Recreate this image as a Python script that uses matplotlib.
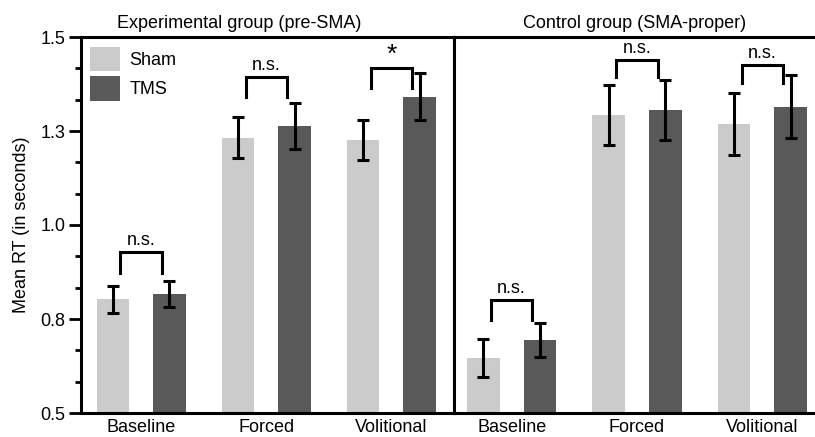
import numpy as np
import matplotlib.pyplot as plt
from matplotlib.patches import Patch

plt.rcParams['font.family'] = ['Liberation Sans', 'DejaVu Sans']

conditions = ["Baseline", "Forced", "Volitional"]
panel_titles = ["Experimental group (pre-SMA)", "Control group (SMA-proper)"]

# mean RT (s) and error bar half-widths, per panel
sham_mean = [[0.802, 1.232, 1.226], [0.647, 1.293, 1.269]]
sham_err = [[0.037, 0.054, 0.054], [0.050, 0.080, 0.083]]
tms_mean = [[0.816, 1.264, 1.341], [0.694, 1.306, 1.315]]
tms_err = [[0.035, 0.061, 0.062], [0.045, 0.080, 0.083]]

# significance brackets: top of bracket, bottom of legs, label
bracket_top = [[0.929, 1.393, 1.417], [0.800, 1.439, 1.425]]
bracket_leg = [[0.873, 1.341, 1.364], [0.747, 1.393, 1.378]]
bracket_txt = [["n.s.", "n.s.", "*"], ["n.s.", "n.s.", "n.s."]]

yticks = [0.5, 0.75, 1.0, 1.25, 1.5]
ytick_labels = ["0.5", "0.8", "1.0", "1.3", "1.5"]

sham_color = "#cbcbcb"
tms_color = "#595959"

W, H = 815, 437
fig = plt.figure(figsize=(W / 100, H / 100), dpi=100)
bot = 1 - 413 / H
hgt = 376 / H
ax1 = fig.add_axes([81 / W, bot, 373 / W, hgt])
ax2 = fig.add_axes([454 / W, bot, 361 / W, hgt])
axes = [ax1, ax2]
xlims = [(-0.48, 2.50), (-0.46, 2.42)]

x = np.arange(len(conditions))
off = 0.226
bw = 0.26
lw = 2.2

for p, ax in enumerate(axes):
    ax.bar(x - off, sham_mean[p], bw, color=sham_color, label="Sham", zorder=1)
    ax.bar(x + off, tms_mean[p], bw, color=tms_color, label="TMS", zorder=1)
    ax.errorbar(x - off, sham_mean[p], yerr=sham_err[p], fmt='none', ecolor='black',
                elinewidth=lw, capsize=4.5, capthick=lw, zorder=3)
    ax.errorbar(x + off, tms_mean[p], yerr=tms_err[p], fmt='none', ecolor='black',
                elinewidth=lw, capsize=4.5, capthick=lw, zorder=3)
    for i in range(len(conditions)):
        l, r = x[i] - 0.165, x[i] + 0.165
        ax.plot([l, l, r, r], [bracket_leg[p][i], bracket_top[p][i], bracket_top[p][i], bracket_leg[p][i]],
                color='black', lw=lw, solid_joinstyle='miter', zorder=3)
        txt = bracket_txt[p][i]
        if txt == "*":
            ax.text(x[i], bracket_top[p][i] + 0.004, txt, ha='center', va='bottom', fontsize=19)
        else:
            ax.text(x[i], bracket_top[p][i] + 0.008, txt, ha='center', va='bottom', fontsize=13)

    ax.set_xlim(*xlims[p])
    ax.set_ylim(0.5, 1.5)
    ax.set_xticks(x)
    ax.set_xticklabels(conditions, fontsize=13)
    ax.tick_params(axis='x', length=0, pad=4)
    for s in ax.spines.values():
        s.set_linewidth(lw)

ax1.set_yticks(yticks)
ax1.set_yticklabels(ytick_labels, fontsize=13)
ax1.set_yticks(np.arange(0.5, 1.5, 1 / 12), minor=True)
ax1.tick_params(axis='y', which='major', length=9, width=2, direction='out', pad=2)
ax1.tick_params(axis='y', which='minor', length=4.5, width=2, direction='out')
ax1.set_ylabel("Mean RT (in seconds)", fontsize=13, labelpad=8)

ax2.set_yticks([])
ax2.spines['right'].set_visible(False)

ax1.text(0.424, 1.014, panel_titles[0], transform=ax1.transAxes, ha='center', va='bottom', fontsize=13)
ax2.text(0.5, 1.014, panel_titles[1], transform=ax2.transAxes, ha='center', va='bottom', fontsize=13)

handles = [Patch(facecolor=sham_color, label="Sham"), Patch(facecolor=tms_color, label="TMS")]
ax1.legend(handles=handles, loc='upper left', bbox_to_anchor=(0.024, 0.974), frameon=False,
           fontsize=13, handlelength=1.67, handleheight=1.72, labelspacing=0.26,
           handletextpad=0.5, borderaxespad=0, borderpad=0)

fig.savefig("out.png", dpi=100)
